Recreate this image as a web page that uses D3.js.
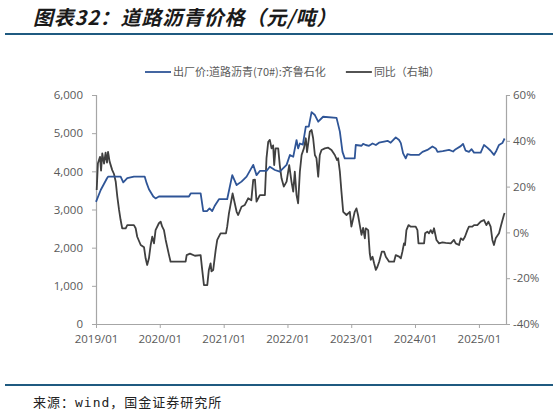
<!DOCTYPE html>
<html>
<head>
<meta charset="utf-8">
<script src="https://cdn.jsdelivr.net/npm/d3@7"></script>
<style>
  html, body { margin: 0; padding: 0; background: #fff; }
  svg { display: block; }
</style>
</head>
<body>
<div id="chart"></div>
<script>
// ---------- data ----------
const titleText = "图表32：道路沥青价格（元/吨）";
const sourceText = "来源：wind，国金证券研究所";
const seriesNames = ["出厂价:道路沥青(70#):齐鲁石化", "同比（右轴）"];
const leftTicks = [0, 1000, 2000, 3000, 4000, 5000, 6000];
const rightTicks = [-40, -20, 0, 20, 40, 60];
const xStart = "2019-01-01";
const xEnd = "2025-06-05";

const priceDates = ["2019-01-01","2019-01-28","2019-03-05","2019-03-11","2019-05-22","2019-06-06","2019-06-29","2019-08-06","2019-10-07","2019-10-18","2019-10-31","2019-11-25","2019-12-08","2019-12-27","2020-06-16","2020-06-26","2020-08-22","2020-09-06","2020-09-27","2020-10-12","2020-10-27","2020-11-10","2020-12-05","2021-01-21","2021-02-19","2021-03-16","2021-04-13","2021-05-12","2021-06-19","2021-07-08","2021-07-27","2021-09-03","2021-09-22","2021-10-21","2021-11-18","2021-12-27","2022-01-15","2022-02-03","2022-02-22","2022-03-03","2022-03-13","2022-03-30","2022-04-16","2022-05-03","2022-05-19","2022-06-07","2022-06-26","2022-07-24","2022-10-09","2022-10-28","2022-11-12","2022-11-25","2023-01-21","2023-01-27","2023-03-01","2023-03-10","2023-03-25","2023-04-13","2023-05-03","2023-05-22","2023-06-09","2023-07-08","2023-07-28","2023-08-15","2023-09-13","2023-10-02","2023-10-12","2023-10-25","2023-11-09","2023-11-19","2023-12-08","2024-01-24","2024-02-13","2024-03-12","2024-04-10","2024-04-29","2024-05-09","2024-06-08","2024-07-14","2024-08-06","2024-08-21","2024-09-19","2024-10-02","2024-10-17","2024-11-05","2024-11-20","2024-12-04","2025-01-11","2025-01-30","2025-02-18","2025-03-09","2025-03-28","2025-04-11","2025-04-26","2025-05-15","2025-05-28"];
const priceValues = [3200,3510,3820,3860,3860,3710,3820,3860,3860,3690,3530,3340,3290,3340,3340,3420,3420,2960,2960,3030,2960,3090,3270,3270,3900,3640,3730,3860,4170,3900,4010,4010,4120,4035,3990,4170,4430,4380,4820,4600,4730,4700,5170,5170,5550,5475,5300,5430,5400,5040,4510,4340,4340,4690,4670,4720,4690,4670,4730,4690,4750,4780,4800,4750,4890,4820,4740,4470,4340,4450,4430,4430,4510,4560,4650,4600,4510,4530,4560,4520,4580,4660,4720,4540,4510,4580,4490,4490,4690,4620,4540,4430,4540,4690,4740,4860];

const yoyDates = ["2019-01-05","2019-01-12","2019-01-24","2019-01-30","2019-02-06","2019-02-16","2019-02-25","2019-03-05","2019-03-11","2019-03-20","2019-04-04","2019-04-14","2019-04-24","2019-05-03","2019-05-13","2019-05-22","2019-05-31","2019-06-20","2019-06-29","2019-08-06","2019-08-16","2019-08-25","2019-09-14","2019-10-03","2019-10-12","2019-10-21","2019-10-31","2019-11-10","2019-11-19","2019-11-29","2019-12-08","2019-12-27","2020-01-06","2020-01-15","2020-01-25","2020-02-04","2020-02-23","2020-03-03","2020-05-28","2020-06-03","2020-06-22","2020-07-20","2020-08-22","2020-08-31","2020-09-10","2020-09-29","2020-10-08","2020-10-18","2020-10-23","2020-11-02","2020-11-16","2020-11-25","2020-12-14","2021-01-14","2021-01-21","2021-01-31","2021-02-09","2021-02-21","2021-03-16","2021-03-25","2021-04-13","2021-05-02","2021-05-21","2021-06-08","2021-06-19","2021-06-29","2021-07-08","2021-07-27","2021-08-25","2021-09-03","2021-09-13","2021-09-22","2021-10-02","2021-10-11","2021-10-17","2021-10-25","2021-11-09","2021-11-18","2021-11-28","2021-12-11","2021-12-27","2022-01-11","2022-01-24","2022-02-03","2022-02-12","2022-02-22","2022-03-03","2022-03-13","2022-03-23","2022-04-05","2022-04-16","2022-04-23","2022-05-09","2022-05-19","2022-05-28","2022-06-07","2022-06-16","2022-06-26","2022-07-05","2022-07-15","2022-08-03","2022-08-22","2022-09-10","2022-09-29","2022-10-12","2022-10-18","2022-10-28","2022-11-06","2022-11-16","2022-12-05","2022-12-24","2023-01-02","2023-01-21","2023-01-31","2023-02-09","2023-02-19","2023-03-01","2023-03-10","2023-03-20","2023-03-25","2023-04-08","2023-04-17","2023-04-23","2023-05-03","2023-05-12","2023-05-22","2023-05-31","2023-06-10","2023-06-25","2023-07-08","2023-07-18","2023-08-06","2023-09-03","2023-09-13","2023-10-02","2023-10-12","2023-10-21","2023-10-30","2023-11-05","2023-11-13","2023-11-25","2023-12-08","2024-01-05","2024-01-15","2024-01-21","2024-02-22","2024-02-28","2024-03-12","2024-03-21","2024-03-31","2024-04-10","2024-04-19","2024-05-03","2024-05-18","2024-06-06","2024-06-25","2024-07-24","2024-08-11","2024-08-21","2024-09-09","2024-09-19","2024-10-02","2024-10-13","2024-10-27","2024-11-05","2024-11-24","2024-12-04","2024-12-23","2025-01-11","2025-01-30","2025-02-13","2025-02-24","2025-03-09","2025-03-19","2025-03-28","2025-04-07","2025-04-26","2025-05-11","2025-05-24","2025-05-28"];
const yoyValues = [18.5,30.2,33,27,34.5,30,34.8,30.5,35.2,30.9,27.2,25.5,22.1,15.6,9.8,5.4,1.8,1.8,3.2,3.2,1.8,-1.9,-5.5,-6.5,-11.3,-14.2,-11.3,-5.5,-1.9,-4.8,1,4,4.7,2.5,1,-3.3,-9.9,-12.8,-12.8,-9.9,-9.3,-10.2,-9.9,-16.4,-23,-23,-16.4,-13.5,-17,-16.4,-7.7,-3.3,-0.4,-0.4,2.5,8.3,12,17,9,7.6,11.2,12,14.9,14,22.9,23,13.4,16.3,16.3,32.4,39.6,40.4,36.7,38,29.4,36.7,36.7,29.4,23.6,20,22.2,29.4,22.2,17.8,26.5,16.3,12.7,26.5,33.8,36.7,41.1,35,44,44.7,41.1,33.8,32.4,24.3,33.8,36,36.7,37,36,33.8,31.6,32.4,26.5,17.8,9,7.6,9,2.5,9,10.5,7.6,3.2,-1.1,2,-2.6,1.8,1,-9.1,-12,-10.6,-13.5,-16.4,-15,-12.8,-8.4,-8.4,-10.6,-12.8,-12.8,-9.9,-10.6,-11.3,-8.4,-4.8,-5.5,1,3.2,2.5,2.5,1,-4.8,-4.8,-0.4,0.3,-0.4,1,-0.4,1.8,-3.3,-4.8,-4.4,-4.6,-4.8,-3.3,-4.8,-5.5,-2.6,-3.3,-1.9,1,2.5,2.5,3.2,3.2,4.7,5.4,3.2,4.7,2.5,-3.3,-5.5,-2.6,-0.4,4,7.6,8.5];

// ---------- layout ----------
const W = 559, H = 416;
const plot = { left: 96, right: 506, top: 95, bottom: 324 };
const parse = d3.timeParse("%Y-%m-%d");

const svg = d3.select("#chart").append("svg")
  .attr("width", W).attr("height", H)
  .attr("viewBox", `0 0 ${W} ${H}`);

// title
svg.append("text")
  .attr("x", 33).attr("y", 25)
  .attr("font-family", "'Noto Sans CJK SC', sans-serif")
  .attr("font-size", 20)
  .attr("font-weight", 700)
  .attr("font-style", "italic")
  .attr("letter-spacing", 0.8)
  .attr("fill", "#1a1a1a")
  .text(titleText);

// header and footer rules
svg.append("line").attr("x1", 5).attr("x2", 553).attr("y1", 34).attr("y2", 34)
  .attr("stroke", "#1F5A80").attr("stroke-width", 2);
svg.append("line").attr("x1", 5).attr("x2", 553).attr("y1", 385).attr("y2", 385)
  .attr("stroke", "#1F5A80").attr("stroke-width", 2);

// source
svg.append("text")
  .attr("x", 33).attr("y", 407)
  .attr("font-family", "'DejaVu Sans Mono', 'Noto Sans CJK SC', monospace")
  .attr("font-size", 13)
  .attr("letter-spacing", 1)
  .attr("fill", "#222")
  .text(sourceText);

// scales
const x = d3.scaleTime()
  .domain([parse(xStart), parse(xEnd)])
  .range([plot.left, plot.right]);
const yL = d3.scaleLinear().domain([0, 6000]).range([plot.bottom, plot.top]);
const yR = d3.scaleLinear().domain([-40, 60]).range([plot.bottom, plot.top]);

const axisColor = "#A6A6A6";
const labelColor = "#595959";
const tickFont = "'Open Sans', 'Segoe UI', sans-serif";

function styleAxis(g) {
  g.select(".domain").attr("stroke", axisColor).attr("stroke-width", 1.2);
  g.selectAll(".tick line").attr("stroke", axisColor).attr("stroke-width", 1);
  g.selectAll(".tick text").attr("fill", labelColor)
    .attr("font-family", tickFont).attr("font-size", 11.5);
}

// left axis
svg.append("g")
  .attr("transform", `translate(${plot.left},0)`)
  .call(d3.axisLeft(yL).tickValues(leftTicks).tickFormat(d3.format(",")).tickSize(4).tickSizeOuter(4).tickPadding(9))
  .call(styleAxis);

// right axis
svg.append("g")
  .attr("transform", `translate(${plot.right},0)`)
  .call(d3.axisRight(yR).tickValues(rightTicks).tickFormat(d => d + "%").tickSize(4).tickSizeOuter(4).tickPadding(3))
  .call(styleAxis);

// bottom axis
svg.append("g")
  .attr("transform", `translate(0,${plot.bottom})`)
  .call(d3.axisBottom(x).ticks(d3.timeYear.every(1)).tickFormat(d3.timeFormat("%Y/%m")).tickSize(4).tickSizeOuter(0).tickPadding(7))
  .call(styleAxis);

// series
const priceData = priceDates.map((d, i) => ({ date: parse(d), value: priceValues[i] }));
const yoyData = yoyDates.map((d, i) => ({ date: parse(d), value: yoyValues[i] }));

const blue = "#2F5597";
const dark = "#404040";

svg.append("path")
  .datum(yoyData)
  .attr("fill", "none")
  .attr("stroke", dark)
  .attr("stroke-width", 1.8)
  .attr("stroke-linejoin", "round")
  .attr("d", d3.line().x(d => x(d.date)).y(d => yR(d.value)));

svg.append("path")
  .datum(priceData)
  .attr("fill", "none")
  .attr("stroke", blue)
  .attr("stroke-width", 1.8)
  .attr("stroke-linejoin", "round")
  .attr("d", d3.line().x(d => x(d.date)).y(d => yL(d.value)));

// legend
const legend = svg.append("g").attr("font-family", "'Noto Sans CJK SC', sans-serif").attr("font-size", 11);
let lx = 145;
const ly = 72;
[[seriesNames[0], blue], [seriesNames[1], dark]].forEach(([name, color], i) => {
  legend.append("line").attr("x1", lx).attr("x2", lx + 26).attr("y1", ly).attr("y2", ly)
    .attr("stroke", color).attr("stroke-width", 1.8);
  const t = legend.append("text").attr("x", lx + 28).attr("y", ly + 4)
    .attr("fill", labelColor).text(name);
  lx = lx + 28 + t.node().getComputedTextLength() + 20;
});
</script>
</body>
</html>
